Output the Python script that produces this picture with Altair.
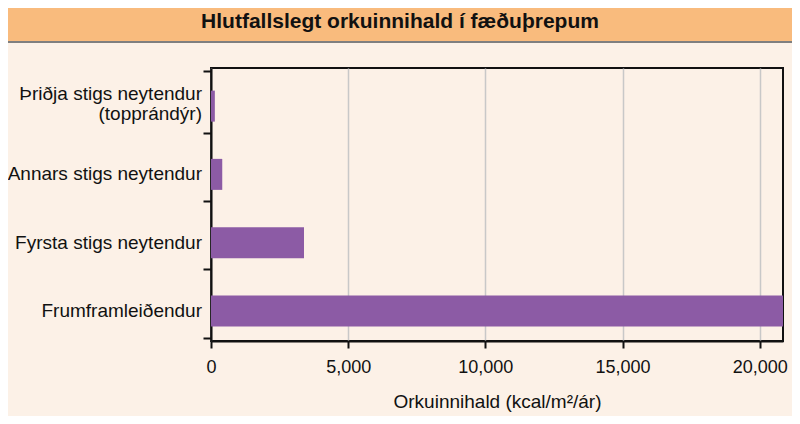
import altair as alt
import pandas as pd

# Data
levels = [
    "Þriðja stigs neytendur|(topprándýr)",
    "Annars stigs neytendur",
    "Fyrsta stigs neytendur",
    "Frumframleiðendur",
]
energy = [140, 410, 3390, 20850]
x_ticks = [0, 5000, 10000, 15000, 20000]
title_text = "Hlutfallslegt orkuinnihald í fæðuþrepum"
x_title = "Orkuinnihald (kcal/m²/ár)"

df = pd.DataFrame({"level": levels, "energy": energy})
df["multi"] = df["level"].str.contains("|", regex=False)
tdf = pd.DataFrame({"t": [title_text]})

W, H = 572, 273
PL, PT, PR, PB = 203, 60, 9, 75
FONT = "Liberation Sans"
INK = "#111111"

band = alt.Chart(tdf).mark_rect(color="#F9BB7D").encode(
    x=alt.value(-PL), x2=alt.value(W + PR), y=alt.value(-PT), y2=alt.value(-26)
)
band_line = alt.Chart(tdf).mark_rule(color="#7F7F7F", strokeWidth=2).encode(
    x=alt.value(-PL), x2=alt.value(W + PR), y=alt.value(-26)
)
title = alt.Chart(tdf).mark_text(
    font=FONT, fontSize=21, fontWeight="bold", color=INK,
    align="center", baseline="middle"
).encode(text="t:N", x=alt.value(189), y=alt.value(-46))

ysc = alt.Y(
    "level:N", sort=levels,
    axis=alt.Axis(
        title=None, labels=False,
        tickBand="extent", tickSize=8, tickWidth=2, tickColor=INK,
        domainColor=INK, domainWidth=2, grid=False,
    ),
)

bars = alt.Chart(df).mark_bar(color="#8C5BA5", size=31, yOffset=4).encode(
    x=alt.X(
        "energy:Q",
        scale=alt.Scale(domain=[0, 20850], nice=False, zero=True),
        axis=alt.Axis(
            values=x_ticks, format=",.0f", title=x_title,
            labelFont=FONT, labelFontSize=18, labelColor=INK,
            labelPadding=10, tickSize=7, tickWidth=2, tickColor=INK,
            domainColor=INK, domainWidth=2,
            grid=True, gridColor="#C8C8C8", gridWidth=1.5,
            titleFont=FONT, titleFontSize=19, titleFontWeight="normal",
            titleColor=INK, titleBaseline="alphabetic", titleY=66,
            labelFlush=False, labelOverlap=False,
        ),
    ),
    y=ysc,
)

labels_single = alt.Chart(df).transform_filter("!datum.multi").mark_text(
    font=FONT, fontSize=19, color=INK, align="right", baseline="middle", dy=4
).encode(text="level:N", y=alt.Y("level:N", sort=levels), x=alt.value(-9))

labels_multi = alt.Chart(df).transform_filter("datum.multi").mark_text(
    font=FONT, fontSize=19, color=INK, align="right", baseline="middle",
    dy=-8, lineBreak="|", lineHeight=20
).encode(text="level:N", y=alt.Y("level:N", sort=levels), x=alt.value(-9))

chart = (
    alt.layer(band, band_line, title, bars, labels_single, labels_multi)
    .properties(
        width=W, height=H,
        padding={"left": PL, "top": PT, "right": PR, "bottom": PB},
        autosize=alt.AutoSizeParams(type="none"),
        background="#FCF1E7",
    )
    .configure_view(stroke=INK, strokeWidth=2)
)

chart.save("out.html", embed_options={"renderer": "svg", "actions": False})
